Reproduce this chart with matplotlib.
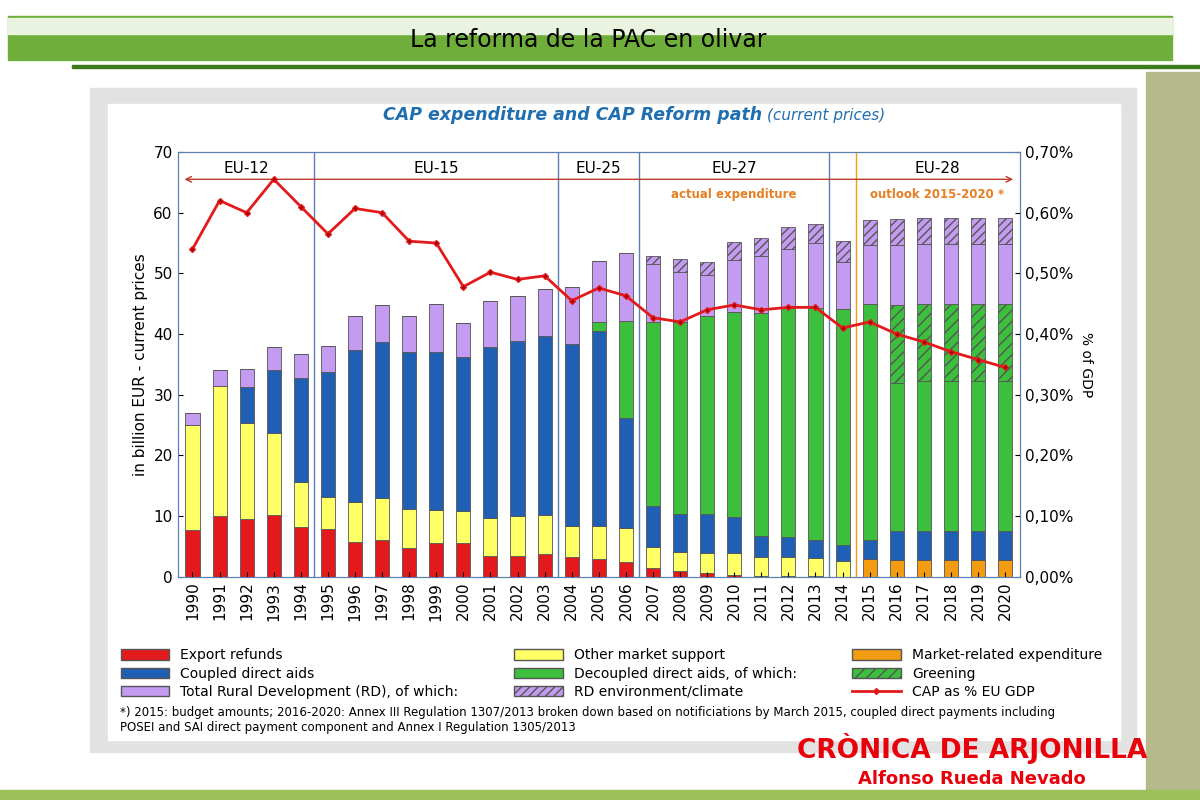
import matplotlib.pyplot as plt
from matplotlib.patches import Patch, Rectangle
from matplotlib.lines import Line2D
import numpy as np

years = list(range(1990, 2021))
# cumulative tops of each layer
red = [7.7, 10, 9.5, 10.2, 8.2, 7.8, 5.7, 6, 4.8, 5.6, 5.6, 3.4, 3.4, 3.7, 3.3, 3, 2.5, 1.4, 0.9, 0.6, 0.3, 0.2, 0.1, 0.1, 0, 0, 0, 0, 0, 0, 0]
yel = [25, 31.5, 25.3, 23.7, 15.7, 13.2, 12.3, 13, 11.2, 11, 10.8, 9.7, 10, 10.2, 8.3, 8.3, 8, 4.9, 4.1, 4, 4, 3.3, 3.3, 3.1, 2.6, 0, 0, 0, 0, 0, 0]
ora = [0]*25 + [2.9, 2.7, 2.7, 2.7, 2.7, 2.7]
blu = [25, 31.5, 31.3, 34, 32.8, 33.7, 37.3, 38.7, 37, 37, 36.3, 37.8, 38.8, 39.7, 38.3, 40.5, 26.2, 11.6, 10.4, 10.4, 9.9, 6.7, 6.6, 6.1, 5.2, 6.1, 7.5, 7.6, 7.6, 7.6, 7.6]
grn = [0]*5 + [0]*10 + [42, 42.1, 42, 42, 43, 43.6, 43.5, 44.3, 44.3, 44.2, 45, 32, 32.3, 32.3, 32.3, 32.3]
gre = [0]*26 + [44.8, 44.9, 44.9, 44.9, 44.9]
vio = [27, 34, 34.2, 37.8, 36.7, 38, 43, 44.8, 43, 45, 41.9, 45.5, 46.2, 47.5, 47.8, 52.1, 53.4, 51.5, 50.3, 49.8, 52.2, 52.8, 54, 55, 51.8, 54.7, 54.7, 54.8, 54.8, 54.8, 54.8]
env = [0]*17 + [52.8, 52.3, 51.8, 55.2, 55.8, 57.6, 58.1, 55.3, 58.8, 58.9, 59.1, 59.1, 59.1, 59.1]
gdp = [0.54, 0.62, 0.60, 0.655, 0.61, 0.565, 0.607, 0.60, 0.553, 0.55, 0.478, 0.502, 0.49, 0.496, 0.455,
       0.476, 0.463, 0.427, 0.42, 0.44, 0.448, 0.44, 0.444, 0.444, 0.41, 0.42, 0.40, 0.387, 0.371, 0.358, 0.345]

fig = plt.figure(figsize=(12, 8), dpi=100)
fig.patch.set_facecolor('white')
# slide decoration (behind the axes)
for rect, col in [((0.007, 0.925, 0.97, 0.055), '#6fae3a'), ((0.007, 0.958, 0.97, 0.02), '#e9f3df'),
                  ((0.06, 0.915, 0.94, 0.004), '#3d7a1c'), ((0.955, 0.0, 0.045, 0.91), '#b6b98a'),
                  ((0.0, 0.0, 1.0, 0.012), '#9cc05a'), ((0.075, 0.06, 0.872, 0.83), '#e2e2e2'),
                  ((0.09, 0.075, 0.843, 0.795), 'white')]:
    fig.add_artist(Rectangle(rect[:2], rect[2], rect[3], transform=fig.transFigure, color=col, zorder=-5))
fig.text(0.49, 0.95, 'La reforma de la PAC en olivar', ha='center', va='center', fontsize=17)
fig.text(0.635, 0.856, 'CAP expenditure and CAP Reform path', color='#1f6fb0', fontweight='bold',
         ha='right', va='center', fontsize=12.5, style='italic')
fig.text(0.639, 0.856, '(current prices)', color='#1f6fb0', ha='left', va='center', fontsize=11, style='italic')

ax = fig.add_axes([0.148, 0.279, 0.702, 0.531])
x = np.array(years)
w = 0.52
def seg(bottom, top, **kw):
    b = np.array(bottom, float)
    t = np.array(top, float)
    h = np.where(t > 0, t - b, 0)
    h = np.clip(h, 0, None)
    ax.bar(x, h, w, bottom=b, edgecolor='#555555', linewidth=0.6, **kw)

zero = [0]*31
seg(zero, red, color='#e31a1c')
seg(red, yel, color='#ffff66')
seg(zero, ora, color='#f39c12')
base_b = [max(a, b, c) for a, b, c in zip(red, yel, ora)]
seg(base_b, blu, color='#1f5fb4')
seg(blu, grn, color='#3cbf3c')
seg(grn, gre, color='#3cbf3c', hatch='///')
base_v = [max(a, b, c) for a, b, c in zip(blu, grn, gre)]
seg(base_v, vio, color='#c39bf0')
seg(vio, env, color='#c39bf0', hatch='////')

ax.set_xlim(1989.45, 2020.55)
ax.set_ylim(0, 70)
ax.set_xticks(years)
ax.set_xticklabels(years, rotation=90, fontsize=10)
ax.set_yticks(range(0, 71, 10))
ax.tick_params(labelsize=11, direction='in')
ax.set_ylabel('in billion EUR - current prices', fontsize=11)
for s in ax.spines.values():
    s.set_color('#5b7fb0')
for xv, c in [(1994.5, '#5b7fb0'), (2003.5, '#5b7fb0'), (2006.5, '#5b7fb0'), (2013.5, '#5b7fb0'), (2014.5, '#f39c12')]:
    ax.axvline(xv, color=c, linewidth=1)
for txt, xm in [('EU-12', 1992), ('EU-15', 1999), ('EU-25', 2005), ('EU-27', 2010), ('EU-28', 2017.5)]:
    ax.text(xm, 67.3, txt, ha='center', va='center', fontsize=11)
ax.annotate('', xy=(1989.6, 65.5), xytext=(2020.4, 65.5),
            arrowprops=dict(arrowstyle='<->', color='#c0392b', lw=1))
ax.text(2010, 62.5, 'actual expenditure', color='#e67e22', fontsize=8.5, fontweight='bold', ha='center')
ax.text(2017.5, 62.5, 'outlook 2015-2020 *', color='#e67e22', fontsize=8.5, fontweight='bold', ha='center')

ax2 = ax.twinx()
ax2.plot(x, gdp, color='#e31a1c', linewidth=2, marker='D', markersize=3, markerfacecolor='#a00000')
ax2.set_ylim(0, 0.70)
ax2.set_yticks(np.arange(0, 0.71, 0.1))
ax2.set_yticklabels([('%.2f%%' % v).replace('.', ',') for v in np.arange(0, 0.71, 0.1)], fontsize=11)
ax2.tick_params(direction='in')
ax2.set_ylabel('% of GDP', rotation=270, labelpad=14, fontsize=10)
for s in ax2.spines.values():
    s.set_color('#5b7fb0')

handles = [
    Patch(facecolor='#e31a1c', edgecolor='#555555', label='Export refunds'),
    Patch(facecolor='#1f5fb4', edgecolor='#555555', label='Coupled direct aids'),
    Patch(facecolor='#c39bf0', edgecolor='#555555', label='Total Rural Development (RD), of which:'),
    Patch(facecolor='#ffff66', edgecolor='#555555', label='Other market support'),
    Patch(facecolor='#3cbf3c', edgecolor='#555555', label='Decoupled direct aids, of which:'),
    Patch(facecolor='#c39bf0', edgecolor='#555555', hatch='////', label='RD environment/climate'),
    Patch(facecolor='#f39c12', edgecolor='#555555', label='Market-related expenditure'),
    Patch(facecolor='#3cbf3c', edgecolor='#555555', hatch='///', label='Greening'),
    Line2D([0], [0], color='#e31a1c', lw=2, marker='D', markersize=3, label='CAP as % EU GDP'),
]
fig.legend(handles=handles, loc='upper left', bbox_to_anchor=(0.09, 0.205), ncol=3, frameon=False,
           fontsize=10, handlelength=3.5, handleheight=0.8, columnspacing=4.0, labelspacing=0.3)
fig.text(0.1, 0.082, '*) 2015: budget amounts; 2016-2020: Annex III Regulation 1307/2013 broken down based on notificiations by March 2015, coupled direct payments including\n'
         'POSEI and SAI direct payment component and Annex I Regulation 1305/2013', fontsize=8.5, va='bottom')
fig.text(0.81, 0.052, 'CRÒNICA DE ARJONILLA', color='#e8000b', fontsize=19, fontweight='bold', ha='center')
fig.text(0.81, 0.02, 'Alfonso Rueda Nevado', color='#e8000b', fontsize=13, fontweight='bold', ha='center')

plt.savefig('out.png')
